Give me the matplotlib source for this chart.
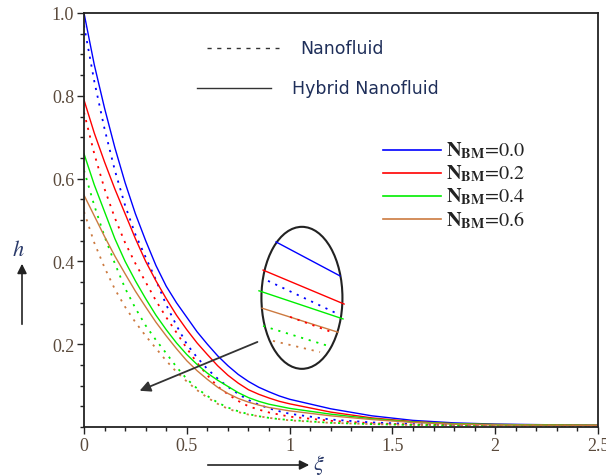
import numpy as np
import matplotlib
matplotlib.use("Agg")
import matplotlib.pyplot as plt
from matplotlib.patches import Ellipse
from matplotlib.ticker import MultipleLocator, FixedLocator, FixedFormatter

# --- DATA ---
xi = [0.0, 0.05, 0.1, 0.15, 0.2, 0.25, 0.3, 0.35, 0.4, 0.45, 0.5, 0.55, 0.6, 0.65,
      0.7, 0.75, 0.8, 0.85, 0.9, 0.95, 1.0, 1.2, 1.4, 1.6, 1.8, 2.0, 2.5]

# hybrid nanofluid (solid)
h_hyb_00 = [1.00, 0.875, 0.77, 0.675, 0.59, 0.515, 0.45, 0.39, 0.34, 0.30, 0.265, 0.23, 0.20, 0.172,
            0.148, 0.127, 0.11, 0.096, 0.085, 0.075, 0.067, 0.044, 0.027, 0.016, 0.010, 0.007, 0.004]
h_hyb_02 = [0.79, 0.71, 0.64, 0.575, 0.515, 0.455, 0.40, 0.353, 0.31, 0.27, 0.235, 0.203, 0.175, 0.148,
            0.125, 0.106, 0.09, 0.079, 0.07, 0.062, 0.056, 0.036, 0.022, 0.013, 0.008, 0.006, 0.004]
h_hyb_04 = [0.66, 0.585, 0.52, 0.455, 0.40, 0.353, 0.31, 0.27, 0.235, 0.203, 0.175, 0.151, 0.13, 0.113,
            0.098, 0.083, 0.071, 0.062, 0.055, 0.05, 0.045, 0.031, 0.02, 0.012, 0.008, 0.006, 0.004]
h_hyb_06 = [0.56, 0.51, 0.46, 0.413, 0.37, 0.328, 0.29, 0.253, 0.22, 0.189, 0.16, 0.136, 0.115, 0.096,
            0.081, 0.069, 0.06, 0.053, 0.047, 0.043, 0.039, 0.027, 0.018, 0.011, 0.007, 0.005, 0.004]

# nanofluid (dotted)
h_nf_00 = [0.97, 0.835, 0.72, 0.62, 0.535, 0.465, 0.41, 0.355, 0.295, 0.245, 0.20, 0.168, 0.14, 0.117,
           0.097, 0.08, 0.065, 0.054, 0.045, 0.038, 0.032, 0.018, 0.011, 0.007, 0.005, 0.004, 0.003]
h_nf_02 = [0.76, 0.66, 0.575, 0.505, 0.445, 0.395, 0.35, 0.305, 0.265, 0.228, 0.19, 0.155, 0.125, 0.098,
           0.079, 0.063, 0.05, 0.042, 0.035, 0.03, 0.025, 0.015, 0.009, 0.006, 0.005, 0.004, 0.003]
h_nf_04 = [0.62, 0.535, 0.46, 0.395, 0.335, 0.287, 0.245, 0.21, 0.178, 0.145, 0.116, 0.093, 0.075, 0.059,
           0.047, 0.038, 0.031, 0.026, 0.022, 0.019, 0.017, 0.01, 0.007, 0.005, 0.004, 0.004, 0.003]
h_nf_06 = [0.52, 0.445, 0.385, 0.333, 0.29, 0.253, 0.22, 0.19, 0.16, 0.133, 0.11, 0.089, 0.071, 0.056,
           0.044, 0.036, 0.03, 0.026, 0.022, 0.019, 0.016, 0.01, 0.007, 0.005, 0.004, 0.004, 0.003]

nbm_labels = ["0.0", "0.2", "0.4", "0.6"]
colors = ["#0000ff", "#ff0000", "#00ee00", "#cc7a40"]

# magnified segments drawn inside the ellipse: (x0, y0, x1, y1)
inset_solid = [(0.934, 0.447, 1.245, 0.365), (0.871, 0.379, 1.265, 0.297),
               (0.851, 0.329, 1.260, 0.261), (0.866, 0.287, 1.235, 0.229)]
inset_dotted = [(0.895, 0.353, 1.235, 0.273), (1.002, 0.266, 1.206, 0.229),
                (0.871, 0.244, 1.187, 0.196), (0.919, 0.208, 1.148, 0.181)]

x_ticks = [0, 0.5, 1, 1.5, 2, 2.5]
x_ticklabels = ["0", "0.5", "1", "1.5", "2", "2.5"]
y_ticks = [0.2, 0.4, 0.6, 0.8, 1.0]
y_ticklabels = ["0.2", "0.4", "0.6", "0.8", "1.0"]

# --- PLOT ---
plt.rcParams["mathtext.fontset"] = "stix"
fig = plt.figure(figsize=(6.06, 4.77), dpi=100)
ax = fig.add_axes([84 / 606, 49 / 477, 514 / 606, 414 / 477])

hyb = [h_hyb_00, h_hyb_02, h_hyb_04, h_hyb_06]
nf = [h_nf_00, h_nf_02, h_nf_04, h_nf_06]
dot = (0, (1.2, 3.2))
for c, hs, hn in zip(colors, hyb, nf):
    ax.plot(xi, hs, color=c, lw=1.0)
    ax.plot(xi, hn, color=c, lw=1.3, linestyle=dot)

# ellipse zoom
ax.add_patch(Ellipse((1.06, 0.312), 0.394, 0.343, fill=False, ec="#222222", lw=1.5))
for c, s in zip(colors, inset_solid):
    ax.plot([s[0], s[2]], [s[1], s[3]], color=c, lw=1.0)
for c, s in zip(colors, inset_dotted):
    ax.plot([s[0], s[2]], [s[1], s[3]], color=c, lw=1.3, linestyle=dot)
ax.annotate("", xy=(0.258, 0.085), xytext=(0.856, 0.208),
            arrowprops=dict(arrowstyle="-|>", color="#333333", lw=1.3, mutation_scale=16))

ax.set_xlim(0, 2.5)
ax.set_ylim(0, 1.0)
ax.xaxis.set_major_locator(FixedLocator(x_ticks))
ax.xaxis.set_major_formatter(FixedFormatter(x_ticklabels))
ax.yaxis.set_major_locator(FixedLocator(y_ticks))
ax.yaxis.set_major_formatter(FixedFormatter(y_ticklabels))
ax.xaxis.set_minor_locator(MultipleLocator(0.1))
ax.yaxis.set_minor_locator(MultipleLocator(0.05))
ax.tick_params(which="both", direction="out", color="#222222", width=1.0,
               top=False, right=False)
ax.tick_params(which="major", length=5, labelsize=13, labelcolor="#5a4a3c", pad=2)
ax.tick_params(which="minor", length=3)
for lab in ax.get_xticklabels() + ax.get_yticklabels():
    lab.set_family("Liberation Serif")
for sp in ax.spines.values():
    sp.set_linewidth(1.3)
    sp.set_color("#222222")

# line-style legend
ax.plot([0.6, 0.95], [0.915, 0.915], color="#333333", lw=1.0, linestyle=(0, (3, 4)))
ax.text(1.05, 0.915, "Nanofluid", fontsize=12.5, family="DejaVu Sans", color="#1f2f5a", va="center")
ax.plot([0.55, 0.91], [0.82, 0.82], color="#333333", lw=1.0)
ax.text(1.01, 0.82, "Hybrid Nanofluid", fontsize=12.5, family="DejaVu Sans", color="#1f2f5a", va="center")

# N_BM legend
for i, (c, lab) in enumerate(zip(colors, nbm_labels)):
    y = 0.67 - i * 0.056
    ax.plot([1.455, 1.735], [y, y], color=c, lw=1.2)
    ax.text(1.76, y, r"$\mathbf{N}_{\mathbf{BM}}$" + "=" + lab, fontsize=14.5,
            family="STIXGeneral", color="#222222", va="center")

# axis labels with arrows
fig.text(18 / 606, 1 - 250 / 477, r"$h$", fontsize=16, color="#2a3a6a", ha="center", va="center")
ax.annotate("", xy=(22 / 606, 1 - 262 / 477), xytext=(22 / 606, 1 - 328 / 477),
            xycoords="figure fraction", textcoords="figure fraction",
            arrowprops=dict(arrowstyle="-|>", color="#222222", lw=1.2, mutation_scale=14))
fig.text(319 / 606, 1 - 465 / 477, r"$\xi$", fontsize=16, color="#2a3a6a", ha="center", va="center")
ax.annotate("", xy=(312 / 606, 1 - 466 / 477), xytext=(205 / 606, 1 - 466 / 477),
            xycoords="figure fraction", textcoords="figure fraction",
            arrowprops=dict(arrowstyle="-|>", color="#222222", lw=1.2, mutation_scale=14))

fig.savefig("out.png", dpi=100)
